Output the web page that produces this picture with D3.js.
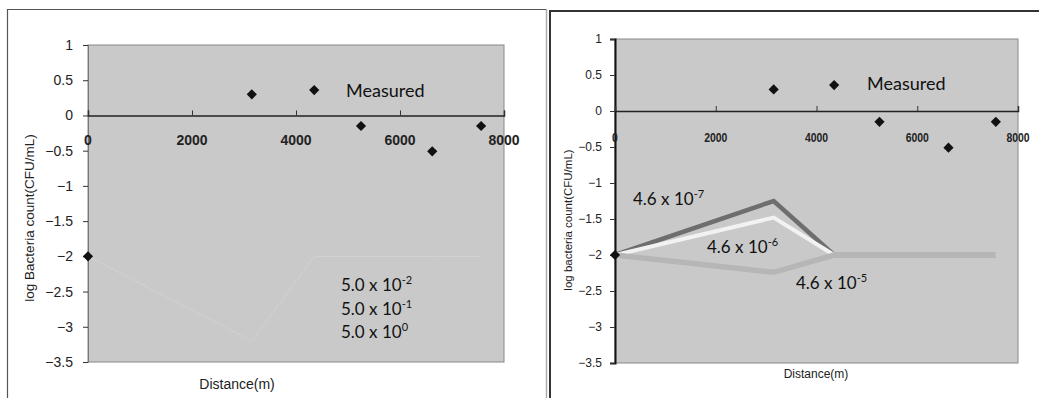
<!DOCTYPE html>
<html><head><meta charset="utf-8">
<script src="https://cdn.jsdelivr.net/npm/d3@7"></script>
<style>
html,body{margin:0;padding:0;background:#fff;}
svg{display:block;}
</style></head>
<body>
<svg id="c" width="1039" height="398"></svg>
<script>
// ---- data ----
const distances = [0, 3150, 4350, 5250, 6620, 7560];
const measured = [-2, 0.30, 0.36, -0.15, -0.51, -0.15];
// left panel model series (nearly invisible in original)
const leftModel_5e0 = [-2, -3.2, -2, -2, -2, -2];
const leftModel_5e1 = [-2, -3.25, -2, -2, -2, -2];
const leftModel_5e2 = [-2, -3.2, -2, -2, -2, -2];
// right panel model series
const rightModel_46e7 = [-2, -1.25, -2, -2, -2, -2];
const rightModel_46e6 = [-2, -1.48, -2, -2, -2, -2];
const rightModel_46e5 = [-2, -2.24, -2, -2, -2, -2];
const xTicks = [0, 2000, 4000, 6000, 8000];
const yTicks = [1, 0.5, 0, -0.5, -1, -1.5, -2, -2.5, -3, -3.5];
const leftLabels = [["5.0 x 10", "-2"], ["5.0 x 10", "-1"], ["5.0 x 10", "0"]];
const rightLabels = [["4.6 x 10", "-7"], ["4.6 x 10", "-6"], ["4.6 x 10", "-5"]];

const svg = d3.select("#c");

// outer frames
svg.append("path").attr("d", "M7.5,398 V9.5 H546.5 V398").attr("fill", "none").attr("stroke", "#555").attr("stroke-width", 1.2);
svg.append("line").attr("x1", 546.5).attr("x2", 546.5).attr("y1", 9).attr("y2", 398).attr("stroke", "#aaa").attr("stroke-width", 1);
svg.append("path").attr("d", "M550,398 V11 H1039").attr("fill", "none").attr("stroke", "#333").attr("stroke-width", 2);

const tickFont = "'Liberation Sans', Arial, sans-serif";
const annFont = "Lato, 'Open Sans', sans-serif";

function panel(cfg) {
  const x = d3.scaleLinear().domain([0, 8000]).range([cfg.x0, cfg.x1]);
  const y = d3.scaleLinear().domain([-3.5, 1]).range([cfg.yb, cfg.yt]);
  const g = svg.append("g");
  g.append("rect").attr("x", cfg.x0).attr("y", cfg.yt).attr("width", cfg.x1 - cfg.x0).attr("height", cfg.yb - cfg.yt)
    .attr("fill", "#c9c9c9").attr("stroke", "#888").attr("stroke-width", 1);

  // model lines
  const line = d3.line().x((d, i) => x(distances[i])).y(d => y(d));
  const clipId = "clip" + cfg.id;
  g.append("clipPath").attr("id", clipId).append("rect").attr("x", cfg.x0).attr("y", cfg.yt).attr("width", cfg.x1 - cfg.x0).attr("height", cfg.yb - cfg.yt);
  cfg.models.forEach(m => {
    g.append("path").datum(m.values).attr("d", line).attr("fill", "none")
      .attr("stroke", m.color).attr("stroke-width", m.width).attr("stroke-linejoin", "miter").attr("clip-path", `url(#${clipId})`);
  });

  // y axis
  const ya = d3.axisLeft(y).tickValues(yTicks).tickSize(5).tickPadding(cfg.yPad)
    .tickFormat(d => d === 0 ? "0" : d3.format("")(d).replace("-", "\u2212"));
  const yg = g.append("g").attr("transform", `translate(${cfg.x0},0)`).call(ya);
  yg.select(".domain").attr("stroke", cfg.yAxisColor).attr("stroke-width", cfg.yAxisWidth);
  yg.selectAll(".tick line").attr("stroke", "#333");
  yg.selectAll("text").attr("font-family", tickFont).attr("font-size", cfg.yFs).attr("fill", "#222");

  // x axis at zero
  const xa = d3.axisTop(x).tickValues(xTicks).tickSize(5).tickFormat("");
  const xg = g.append("g").attr("transform", `translate(0,${y(0)})`).call(xa);
  xg.select(".domain").attr("stroke", "#222").attr("stroke-width", 1.5);
  xg.selectAll(".tick line").attr("stroke", "#333");
  g.selectAll(".xl").data(xTicks).enter().append("text")
    .attr("x", d => x(d)).attr("y", y(0) + cfg.xLabOff).attr("text-anchor", "middle")
    .attr("font-family", tickFont).attr("font-size", cfg.xFs).attr("font-weight", cfg.xFw)
    .attr("fill", "#222").attr("transform", d => `translate(${x(d)},0) scale(${cfg.xScaleX},1) translate(${-x(d)},0)`)
    .text(d => d);

  // measured points
  g.selectAll(".pt").data(measured).enter().append("path")
    .attr("d", d3.symbol(d3.symbolSquare, cfg.ptSize)())
    .attr("transform", (d, i) => `translate(${x(distances[i])},${y(d)}) rotate(45)`)
    .attr("fill", "#111");

  // titles
  g.append("text").attr("transform", `translate(${cfg.ytX},${cfg.ytY}) rotate(-90)`).attr("text-anchor", "middle")
    .attr("font-family", tickFont).attr("font-size", cfg.ytFs).attr("fill", "#222").text(cfg.yTitle);
  g.append("text").attr("x", cfg.xtX).attr("y", cfg.xtY).attr("text-anchor", "middle")
    .attr("font-family", tickFont).attr("font-size", cfg.xtFs).attr("fill", "#222").text("Distance(m)");

  // annotations
  g.append("text").attr("x", cfg.measX).attr("y", cfg.measY).attr("font-family", annFont).attr("font-size", 18)
    .attr("fill", "#111").text("Measured");
  cfg.labels.forEach((l, i) => {
    const t = g.append("text").attr("x", cfg.labPos[i][0]).attr("y", cfg.labPos[i][1])
      .attr("font-family", annFont).attr("font-size", 17).attr("fill", "#111");
    t.append("tspan").text(l[0]);
    t.append("tspan").attr("dy", -7).attr("font-size", 11).text(l[1]);
  });
}

panel({
  id: "L", x0: 88, x1: 504, yt: 45, yb: 362,
  yPad: 10, yFs: 14, yAxisColor: "#777", yAxisWidth: 1,
  xFs: 14, xFw: "bold", xLabOff: 30, xScaleX: 1,
  ptSize: 52,
  yTitle: "log  Bacteria count(CFU/mL)", ytX: 34, ytY: 218, ytFs: 13.5,
  xtX: 237, xtY: 389, xtFs: 14,
  measX: 346, measY: 97,
  labels: leftLabels, labPos: [[341, 291], [341, 315], [341, 338]],
  models: [
    {values: leftModel_5e1, color: "#cbcbcb", width: 1},
    {values: leftModel_5e0, color: "#c0c0c0", width: 1},
    {values: leftModel_5e2, color: "#d4d4d4", width: 1}
  ]
});

panel({
  id: "R", x0: 615, x1: 1018, yt: 39, yb: 363,
  yPad: 8, yFs: 12, yAxisColor: "#111", yAxisWidth: 2,
  xFs: 13, xFw: "bold", xLabOff: 31, xScaleX: 0.8,
  ptSize: 52,
  yTitle: "log  bacteria count(CFU/mL)", ytX: 572, ytY: 220, ytFs: 11.5,
  xtX: 816, xtY: 378, xtFs: 12,
  measX: 867, measY: 90,
  labels: rightLabels, labPos: [[633, 205], [707, 253], [796, 289]],
  models: [
    {values: rightModel_46e7, color: "#6e6e6e", width: 4.5},
    {values: rightModel_46e6, color: "#f2f2f2", width: 4},
    {values: rightModel_46e5, color: "#b6b6b6", width: 5.5}
  ]
});
</script>
</body></html>
